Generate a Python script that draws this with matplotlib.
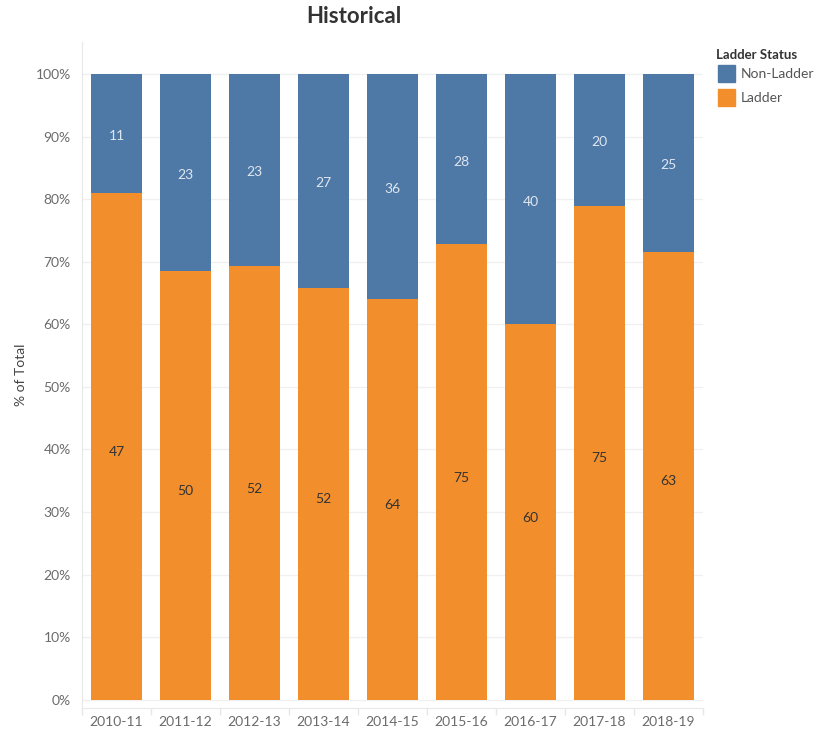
import matplotlib
matplotlib.use("Agg")
import matplotlib.pyplot as plt
import numpy as np

seasons = ["2010-11", "2011-12", "2012-13", "2013-14", "2014-15",
           "2015-16", "2016-17", "2017-18", "2018-19"]
ladder = [47, 50, 52, 52, 64, 75, 60, 75, 63]
non_ladder = [11, 23, 23, 27, 36, 28, 40, 20, 25]

plt.rcParams["font.family"] = ["Lato", "DejaVu Sans"]

BLUE = "#4e79a7"
ORANGE = "#f28e2b"

lad = np.array(ladder, dtype=float)
non = np.array(non_ladder, dtype=float)
total = lad + non
lad_pct = lad / total * 100
non_pct = non / total * 100

fig = plt.figure(figsize=(8.19, 7.38), dpi=100)
ax = fig.add_axes([0.1001, 0.0407, 0.7583, 0.9023])

x = np.arange(len(seasons))
w = 0.75
ax.bar(x, lad_pct, width=w, color=ORANGE, zorder=2)
ax.bar(x, non_pct, width=w, bottom=lad_pct, color=BLUE, zorder=2)

for i in range(len(seasons)):
    ax.text(x[i], lad_pct[i] / 2 - 0.9, str(ladder[i]), ha="center", va="center",
            fontsize=10, color="#333333", zorder=3)
    ax.text(x[i], lad_pct[i] + non_pct[i] / 2 - 0.4, str(non_ladder[i]), ha="center",
            va="center", fontsize=10, color="#dfe6ee", zorder=3)

ax.set_xlim(-0.5, len(seasons) - 0.5)
ax.set_ylim(-1.3, 105.1)
ax.set_yticks(np.arange(0, 101, 10))
ax.set_yticklabels([f"{v}%" for v in range(0, 101, 10)])
ax.set_xticks(x)
ax.set_xticklabels(seasons)
ax.tick_params(axis="both", length=0, labelsize=10, labelcolor="#6b6b6b")
ax.tick_params(axis="x", pad=6)
ax.tick_params(axis="y", pad=8)
ax.set_xticks(np.arange(-0.5, len(seasons), 1), minor=True)
ax.tick_params(axis="x", which="minor", length=5, color="#e6e6e6", width=1)

ax.grid(axis="y", color="#f0f0f0", linewidth=1, zorder=0)
for s in ["top", "right"]:
    ax.spines[s].set_visible(False)
ax.spines["left"].set_color("#e8e8e8")
ax.spines["bottom"].set_color("#e8e8e8")

ax.set_ylabel("% of Total", fontsize=10, color="#444444", labelpad=6)
fig.text(0.432, 0.977, "Historical", ha="center", va="center",
         fontsize=16, fontweight="bold", color="#333333")

# legend
fig.text(0.874, 0.925, "Ladder Status", ha="left", va="center",
         fontsize=9.5, fontweight="bold", color="#333333")
for j, (lab, col) in enumerate([("Non-Ladder", BLUE), ("Ladder", ORANGE)]):
    yc = 0.9 - j * 0.0325
    fig.patches.append(plt.Rectangle((0.877, yc - 0.0115), 0.021, 0.023,
                                     transform=fig.transFigure, color=col))
    fig.text(0.905, yc, lab, ha="left", va="center", fontsize=10, color="#555555")

fig.savefig("out.png", dpi=100)
